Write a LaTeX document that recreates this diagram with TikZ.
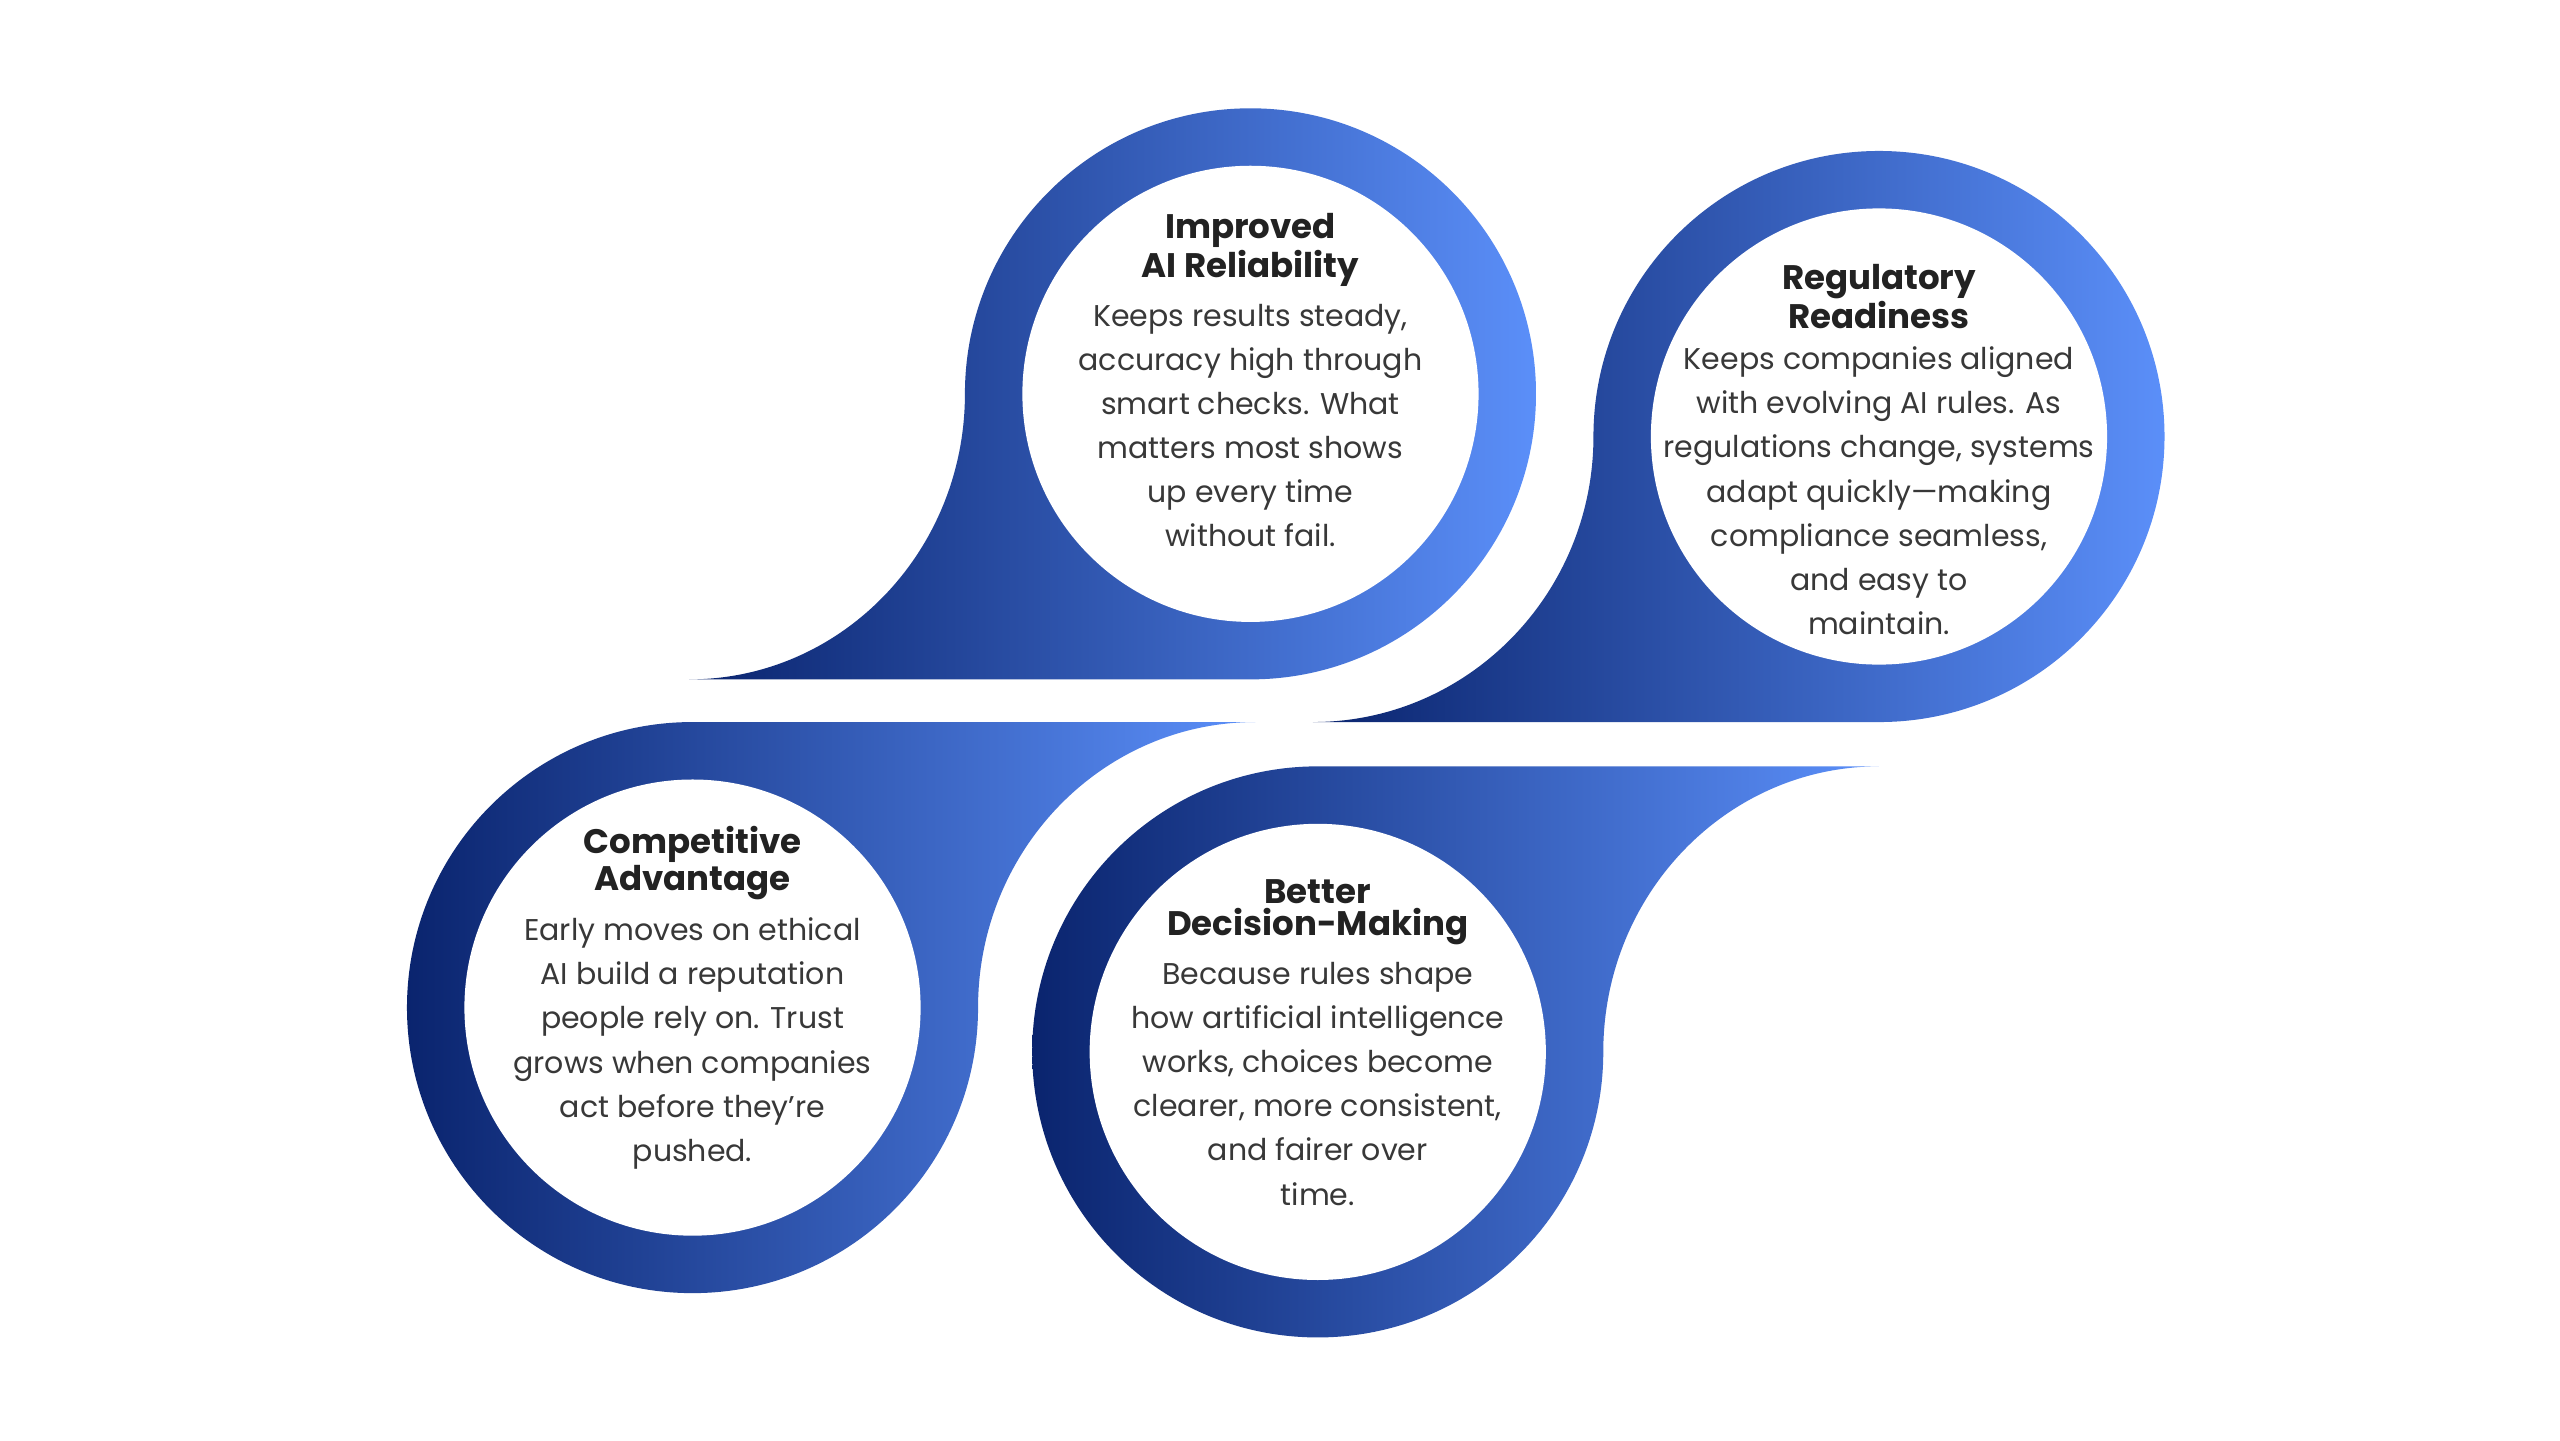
\documentclass[tikz,border=0pt]{standalone}
\usepackage{fontspec}
\setmainfont{Poppins}
\definecolor{deepblue}{HTML}{0A246E}
\definecolor{lightblue}{HTML}{5B8FF9}
\definecolor{inktext}{HTML}{222222}
\tikzset{
  drop/.style={left color=deepblue, right color=lightblue, draw=none},
  hole/.style={fill=white, draw=none},
  title/.style={anchor=south, align=center, text=inktext, inner sep=0pt, font=\bfseries\fontsize{11.8}{11}\selectfont},
  blurb/.style={anchor=north, align=center, text=inktext!90, inner sep=0pt, font=\fontsize{10.4}{15.3}\selectfont}
}
\begin{document}
\begin{tikzpicture}
        \useasboundingbox[fill=white] (0,0) rectangle (31.2,-17.56);
        % drop shapes
        \path[drop] (15.24,-4.8) circle[radius=3.48cm]
            (15.24,-8.28) -- (15.24,-4.8) -- (11.76,-4.8)
            arc[start angle=0, end angle=-90, x radius=3.36cm, y radius=3.48cm] -- cycle;
        \path[drop] (22.9,-5.32) circle[radius=3.48cm]
            (22.9,-8.8) -- (22.9,-5.32) -- (19.42,-5.32)
            arc[start angle=0, end angle=-90, x radius=3.42cm, y radius=3.48cm] -- cycle;
        \path[drop] (8.44,-12.28) circle[radius=3.48cm]
            (8.44,-8.8) -- (8.44,-12.28) -- (11.92,-12.28)
            arc[start angle=180, end angle=90, x radius=3.38cm, y radius=3.48cm] -- cycle;
        \path[drop] (16.06,-12.82) circle[radius=3.48cm]
            (16.06,-9.34) -- (16.06,-12.82) -- (19.54,-12.82)
            arc[start angle=180, end angle=90, x radius=3.36cm, y radius=3.48cm] -- cycle;

        \path[hole] (15.24,-4.8) circle[radius=2.78cm];
        \path[hole] (22.9,-5.32) circle[radius=2.78cm];
        \path[hole] (8.44,-12.28) circle[radius=2.78cm];
        \path[hole] (16.06,-12.82) circle[radius=2.78cm];

        \path (15.24,-3.5)   node[title](reliabilityhead) {Improved\\AI Reliability};
        \path (15.24,-3.7)   node[blurb](reliability) {Keeps results steady,\\accuracy high through\\smart checks. What\\matters most shows\\up every time\\without fail.};
        \path (22.9,-4.02)   node[title](readinesshead) {Regulatory\\Readiness};
        \path (22.9,-4.22)   node[blurb](readiness) {Keeps companies aligned\\with evolving AI rules. As\\regulations change, systems\\adapt quickly—making\\compliance seamless,\\and easy to\\maintain.};
        \path (8.44,-10.98)  node[title](advantagehead) {Competitive\\Advantage};
        \path (8.44,-11.18)  node[blurb](advantage) {Early moves on ethical\\AI build a reputation\\people rely on. Trust\\grows when companies\\act before they’re\\pushed.};
        \path (16.06,-11.52) node[title](decisionshead) {Better\\Decision-Making};
        \path (16.06,-11.72) node[blurb](decisions) {Because rules shape\\how artificial intelligence\\works, choices become\\clearer, more consistent,\\and fairer over\\time.};
    \end{tikzpicture}
\end{document}
